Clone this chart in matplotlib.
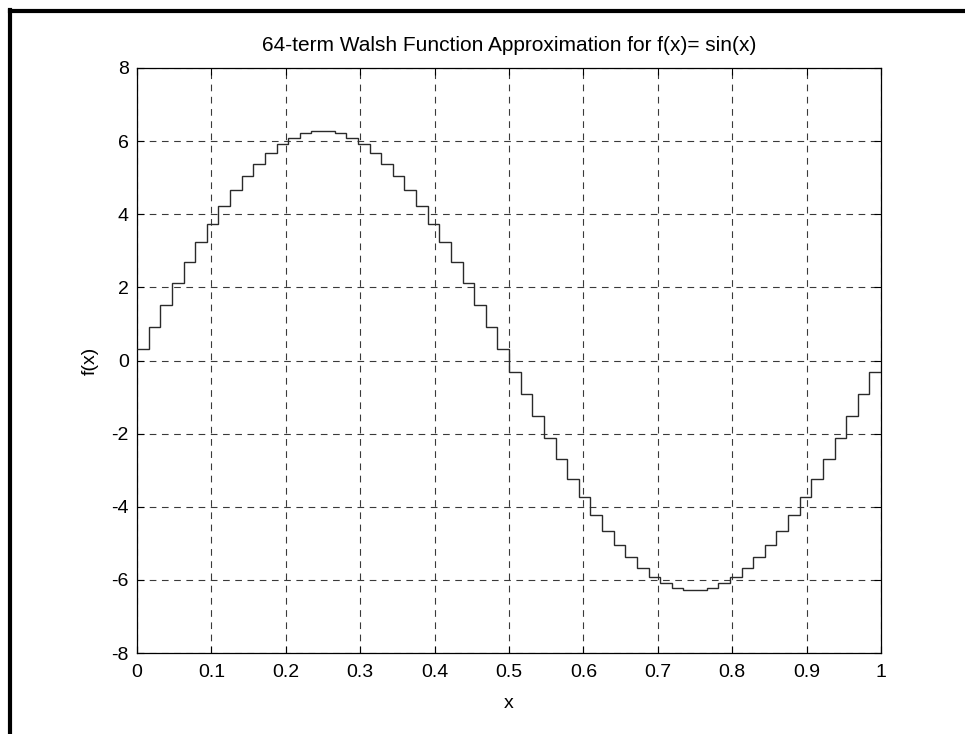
"""64-term Walsh approximation staircase, MATLAB-style figure."""

import matplotlib

matplotlib.use("Agg", force=True)
import matplotlib.pyplot as plt
from matplotlib.lines import Line2D
import numpy as np

# step heights for the 64 Walsh intervals on [0, 1]
first_half = [
    0.308, 0.922, 1.526, 2.116, 2.685, 3.229, 3.741, 4.218,
    4.654, 5.045, 5.387, 5.678, 5.913, 6.093, 6.213, 6.273,
    6.273, 6.213, 6.093, 5.913, 5.678, 5.387, 5.045, 4.654,
    4.218, 3.741, 3.229, 2.685, 2.116, 1.526, 0.922, 0.308,
]
second_half = [
    -0.308, -0.922, -1.526, -2.116, -2.685, -3.229, -3.741, -4.218,
    -4.654, -5.045, -5.387, -5.678, -5.913, -6.093, -6.213, -6.273,
    -6.273, -6.213, -6.093, -5.913, -5.678, -5.387, -5.045, -4.654,
    -4.218, -3.741, -3.229, -2.685, -2.116, -1.526, -0.922, -0.308,
]
step_values = first_half + second_half
x_ticks = [0, 0.1, 0.2, 0.3, 0.4, 0.5, 0.6, 0.7, 0.8, 0.9, 1]
x_tick_labels = ["0", "0.1", "0.2", "0.3", "0.4", "0.5", "0.6", "0.7", "0.8", "0.9", "1"]
y_ticks = [-8, -6, -4, -2, 0, 2, 4, 6, 8]

plt.rcParams["font.family"] = ["Liberation Sans", "DejaVu Sans"]
plt.rcParams["axes.unicode_minus"] = False

W, H = 965, 734
fig = plt.figure(figsize=(W / 100, H / 100), dpi=100, facecolor="white")

# axes box in pixel coordinates: left 137, right 881, top 68, bottom 653
ax = fig.add_axes([137 / W, 1 - 653 / H, (881 - 137) / W, (653 - 68) / H])

edges = np.linspace(0, 1, len(step_values) + 1)
ax.stairs(step_values, edges, baseline=None, color="#2a2a2a", linewidth=1.0, zorder=3)

ax.set_xlim(0, 1)
ax.set_ylim(-8, 8)
ax.set_xticks(x_ticks)
ax.set_xticklabels(x_tick_labels)
ax.set_yticks(y_ticks)
ax.tick_params(direction="in", length=5, width=0.8, labelsize=14, top=True, right=True, pad=6)
ax.tick_params(axis="x", pad=8)
for spine in ax.spines.values():
    spine.set_linewidth(0.9)
    spine.set_color("black")
ax.grid(True, color="#3a3a3a", linestyle=(0, (6, 5)), linewidth=0.8)

ax.set_title("64-term Walsh Function Approximation for f(x)= sin(x)", fontsize=15, pad=12.5)
ax.set_xlabel("x", fontsize=14, labelpad=10)
ax.set_ylabel("f(x)", fontsize=14, labelpad=9)

# thick frame on the top and left edges of the image
fig.add_artist(Line2D([9.5 / W, 9.5 / W], [0, 1 - 9.5 / H], transform=fig.transFigure,
                      color="black", linewidth=3.0, solid_capstyle="projecting"))
fig.add_artist(Line2D([9.5 / W, 1], [1 - 11 / H, 1 - 11 / H], transform=fig.transFigure,
                      color="black", linewidth=3.0, solid_capstyle="projecting"))

fig.savefig("out.png", dpi=100, facecolor="white")
plt.close(fig)
